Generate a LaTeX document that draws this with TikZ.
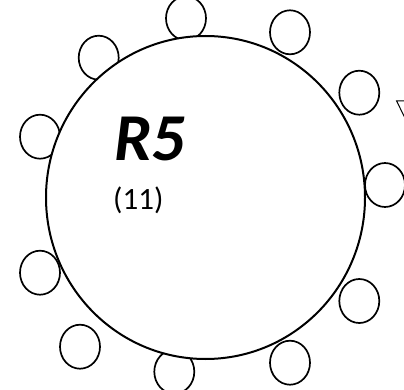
\documentclass[tikz,border=0pt]{standalone}
\usepackage{fontspec}
\setmainfont{Carlito}
\begin{document}
\begin{tikzpicture}[x=1pt,y=-1pt,
  lbl/.style={inner sep=0pt,anchor=base west}]
\useasboundingbox (0,0) rectangle (404,390);
\clip (0,0) rectangle (404,390);
% triangle fragment at right edge
\draw[line width=1pt,line join=miter] (404,101) coordinate (ta) -- (396.6,101) coordinate (tb) -- (404.5,117) coordinate (tc);
% small circles
\foreach \n/\x/\y in {a/186/18.3, b/290/32.3, c/359.3/92.7, d/385/185, e/359.3/301, f/290/362.7, g/174.3/371.7, h/80/346.7, i/40/272.7, j/40/136.7, k/98.7/57.7}{
  \draw[line width=1.7pt,fill=white] (\x,\y) ellipse [x radius=20, y radius=22];
  \coordinate (s\n) at (\x,\y);
}
% main circle
\draw[line width=2pt,fill=white] (205.5,197.5) ellipse [x radius=159.5, y radius=161.5];
\coordinate (main) at (205.5,197.5);
\node[lbl,font=\fontsize{67}{67}\selectfont\bfseries\itshape] (r5) at (114,161) {R5};
\node[lbl,font=\fontsize{31}{31}\selectfont] (cnt) at (113,209) {(11)};
\end{tikzpicture}
\end{document}
